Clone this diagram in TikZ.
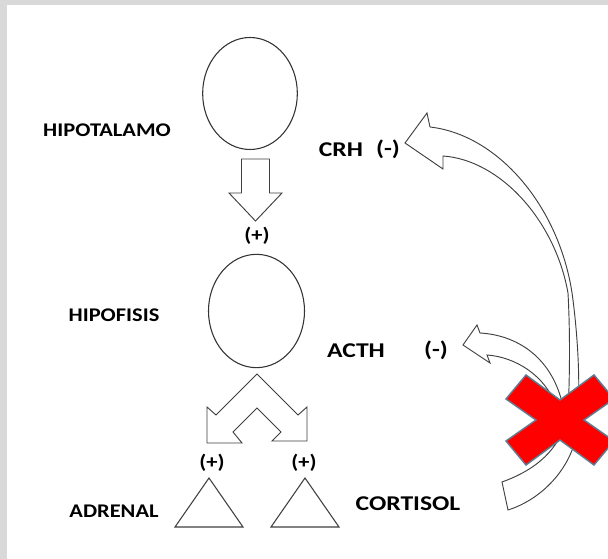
\documentclass[tikz,border=0pt]{standalone}
\usepackage{fontspec}
\setmainfont{Carlito}
\newfontfamily\organfont{Carlito}[FakeStretch=1.16]
\newfontfamily\hormonefont{Carlito}[FakeStretch=1.22]
\usetikzlibrary{shapes.geometric}
\definecolor{framegray}{RGB}{217,217,217}
\definecolor{crossedge}{RGB}{95,125,145}
\definecolor{crossred}{RGB}{255,0,0}
\tikzset{
  organ/.style={draw=black!80,line width=0.8pt,ellipse,inner sep=0pt,
    minimum width=71pt,minimum height=84pt},
  block arrow/.style={draw=black!75,line width=0.7pt,fill=white,line join=miter},
  gland/.style={draw=black!75,line width=0.8pt,line join=miter},
  organ label/.style={inner sep=0pt,font=\organfont\bfseries\fontsize{14.5}{16}\selectfont},
  hormone label/.style={inner sep=0pt,font=\hormonefont\bfseries\fontsize{15.75}{18}\selectfont},
  sign label/.style={organ label},
  cross/.style={fill=crossred,draw=crossedge,line width=1.1pt,line join=miter}
}

\begin{document}
\begin{tikzpicture}[x=0.75pt,y=-0.75pt]

	% frame
	\useasboundingbox (0,0) rectangle (608,559);
	\fill[framegray] (0,0) rectangle (608,559);
	\fill[white] (7,5) rectangle (608,559);

	% organs
	\node[organ] (hipot) at (250,93.5) {};
	\node[organ,minimum width=72pt,minimum height=85pt] (hipof) at (256.5,311) {};
	\foreach \cx/\nm in {209/adrL,305/adrR}{
		\coordinate (\nm) at (\cx,478);
		\draw[gland] (\nm) -- (\cx+34,527) -- (\cx-34,527) -- cycle;
	}

	% labels
	\node[organ label] (lhipot) at (107,130) {HIPOTALAMO};
	\node[organ label] (lhipof) at (114,315) {HIPOFISIS};
	\node[organ label] (ladr) at (114,511) {ADRENAL};
	\node[hormone label] (crh) at (341,150) {CRH};
	\node[hormone label] (acth) at (356,351) {ACTH};
	\node[hormone label] (cort) at (408,504) {CORTISOL};
	\node[hormone label] (crhneg) at (388,149) {(-)};
	\node[hormone label] (acthneg) at (436,350) {(-)};
	\node[sign label] (pos1) at (257,236) {(+)};
	\node[sign label] (pos2) at (212,463) {(+)};
	\node[sign label] (pos3) at (304,463) {(+)};

	% stimulation arrows
	\draw[block arrow] (241.5,159) -- (269.5,159) -- (269.5,193) -- (282,193)
		-- (255.5,221) -- (229,193) -- (241.5,193) -- cycle;
	\draw[block arrow] (257,374) -- (216,415) -- (207,407) -- (207,443) -- (242,443)
		-- (233,432) -- (257,408) -- (281,432) -- (272,441) -- (307,441)
		-- (307,407) -- (298,415) -- cycle;

	% feedback arrows
	\draw[block arrow] (405,143) -- (427,113) -- (430,127)
		.. controls (500,135) and (562,210) .. (573,300)
		.. controls (578,340) and (580,380) .. (578,415) -- (568,415)
		.. controls (570,370) and (570,330) .. (568,293)
		.. controls (555,220) and (500,160) .. (443,156) -- (443,169) -- cycle;
	\draw[block arrow] (463,345) -- (477,325) -- (480,333)
		.. controls (515,335) and (550,355) .. (562,402) -- (556,406)
		.. controls (545,375) and (515,357) .. (487,355) -- (490,363) -- cycle;
	\draw[block arrow] (502,482) .. controls (530,472) and (555,455) .. (565,425)
		-- (578,428) .. controls (572,470) and (540,500) .. (508,510) -- cycle;

	% blocked feedback
	\begin{scope}
		\clip (0,0) rectangle (608,559);
		\draw[cross,shift={(560,420)}] (0,-20) -- (34,-45) -- (54,-21) -- (24,0)
			-- (54,21) -- (34,45) -- (0,20) -- (-34,45) -- (-54,21) -- (-24,0)
			-- (-54,-21) -- (-34,-45) -- cycle;
	\end{scope}

\end{tikzpicture}
\end{document}
